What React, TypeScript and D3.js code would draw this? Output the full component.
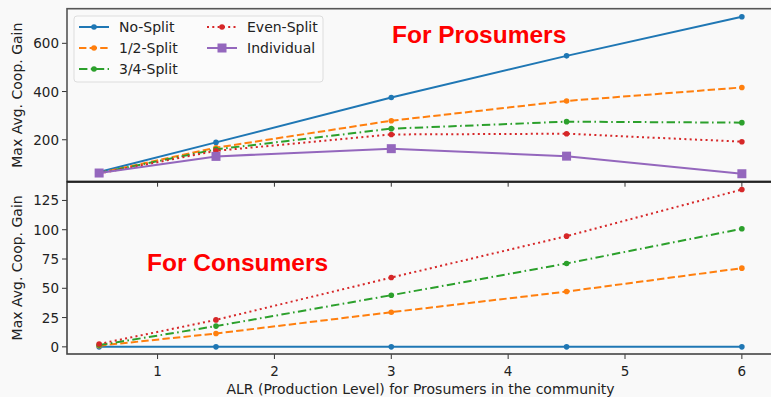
import React from 'react';
import * as d3 from 'd3';

const alr = [0.5, 1.5, 3, 4.5, 6];

// top panel: prosumers
const proNoSplit = [66, 189, 375, 548, 710];
const proHalf = [62, 167, 279, 361, 417];
const proThreeQ = [62, 160, 246, 275, 271];
const proEven = [60, 154, 222, 225, 192];
const proIndividual = [62, 131, 163, 132, 59];

// bottom panel: consumers
const conNoSplit = [0, 0, 0, 0, 0];
const conHalf = [1, 11.4, 29.6, 47.2, 67.2];
const conThreeQ = [1.5, 17.7, 44.1, 71.2, 100.8];
const conEven = [2.5, 23, 59.2, 94.5, 134.3];

const xTicks = [1, 2, 3, 4, 5, 6];
const topTicks = [200, 400, 600];
const bottomTicks = [0, 25, 50, 75, 100, 125];

const W = 771;
const H = 397;
const left = 67;
const right = 774;
const topY0 = 8.7;
const topY1 = 181.7;
const botY1 = 354;

const styles: Record<string, { color: string; dash?: string; square?: boolean }> = {
  'No-Split': { color: '#1f77b4' },
  '1/2-Split': { color: '#ff7f0e', dash: '7.4,3.2' },
  '3/4-Split': { color: '#2ca02c', dash: '8.4,3.4,1.6,3.4' },
  'Even-Split': { color: '#d62728', dash: '2,3.3' },
  'Individual': { color: '#9467bd', square: true },
};

const font = 'DejaVu Sans, sans-serif';
const titleFont = 'Liberation Sans, Arial, sans-serif';

function Series({ name, values, x, y }: { name: string; values: number[]; x: any; y: any }) {
  const s = styles[name];
  const line = d3.line<number>().x((_, i) => x(alr[i])).y((d) => y(d));
  return (
    <g>
      <path d={line(values) || ''} fill="none" stroke={s.color} strokeWidth={2} strokeDasharray={s.dash} />
      {values.map((v, i) =>
        s.square ? (
          <rect key={i} x={x(alr[i]) - 4.5} y={y(v) - 4.5} width={9} height={9} fill={s.color} />
        ) : (
          <circle key={i} cx={x(alr[i])} cy={y(v)} r={2.8} fill={s.color} />
        )
      )}
    </g>
  );
}

function LegendItem({ name, lx, ly }: { name: string; lx: number; ly: number }) {
  const s = styles[name];
  return (
    <g>
      <line x1={lx} x2={lx + 30} y1={ly} y2={ly} stroke={s.color} strokeWidth={2} strokeDasharray={s.dash} />
      {s.square ? (
        <rect x={lx + 15 - 4.5} y={ly - 4.5} width={9} height={9} fill={s.color} />
      ) : (
        <circle cx={lx + 15} cy={ly} r={2.8} fill={s.color} />
      )}
      <text x={lx + 40} y={ly + 5} fontSize={14} fontFamily={font} fill="#222">
        {name}
      </text>
    </g>
  );
}

export default function App() {
  const x = d3.scaleLinear().domain([0.225, 6.275]).range([left, right]);
  const yTop = d3.scaleLinear().domain([26, 743.6]).range([topY1, topY0]);
  const yBot = d3.scaleLinear().domain([-6.1, 141]).range([botY1, topY1]);

  return (
    <svg width={W} height={H} style={{ position: 'absolute', left: 0, top: 0, background: '#f9f9f9' }}>
      <rect x={0} y={0} width={W} height={H} fill="#f9f9f9" />

      {/* top panel */}
      <g>
        <Series name="No-Split" values={proNoSplit} x={x} y={yTop} />
        <Series name="1/2-Split" values={proHalf} x={x} y={yTop} />
        <Series name="3/4-Split" values={proThreeQ} x={x} y={yTop} />
        <Series name="Even-Split" values={proEven} x={x} y={yTop} />
        <Series name="Individual" values={proIndividual} x={x} y={yTop} />
        {topTicks.map((t) => (
          <g key={t}>
            <line x1={left - 5} x2={left} y1={yTop(t)} y2={yTop(t)} stroke="#333" strokeWidth={1} />
            <text x={left - 8} y={yTop(t) + 5} textAnchor="end" fontSize={13.5} fontFamily={font} fill="#222">
              {t}
            </text>
          </g>
        ))}
        {xTicks.map((t) => (
          <line key={t} x1={x(t)} x2={x(t)} y1={topY1} y2={topY1 + 5} stroke="#333" strokeWidth={1} />
        ))}
        <text
          transform={`translate(22,${(topY0 + topY1) / 2}) rotate(-90)`}
          textAnchor="middle"
          fontSize={14}
          fontFamily={font}
          fill="#222"
        >
          Max Avg. Coop. Gain
        </text>
        <text x={392} y={43} fontSize={24.5} fontWeight="bold" fontFamily={titleFont} fill="#ff0000">
          For Prosumers
        </text>
        <rect x={74} y={16} width={249} height={66} rx={3} fill="#fbfbfb" fillOpacity={0.85} stroke="#ddd" strokeWidth={1} />
        <LegendItem name="No-Split" lx={79} ly={27} />
        <LegendItem name="1/2-Split" lx={79} ly={48} />
        <LegendItem name="3/4-Split" lx={79} ly={69} />
        <LegendItem name="Even-Split" lx={207} ly={27} />
        <LegendItem name="Individual" lx={207} ly={48} />
      </g>

      {/* bottom panel */}
      <g>
        <Series name="No-Split" values={conNoSplit} x={x} y={yBot} />
        <Series name="1/2-Split" values={conHalf} x={x} y={yBot} />
        <Series name="3/4-Split" values={conThreeQ} x={x} y={yBot} />
        <Series name="Even-Split" values={conEven} x={x} y={yBot} />
        {bottomTicks.map((t) => (
          <g key={t}>
            <line x1={left - 5} x2={left} y1={yBot(t)} y2={yBot(t)} stroke="#333" strokeWidth={1} />
            <text x={left - 8} y={yBot(t) + 5} textAnchor="end" fontSize={13.5} fontFamily={font} fill="#222">
              {t}
            </text>
          </g>
        ))}
        {xTicks.map((t) => (
          <g key={t}>
            <line x1={x(t)} x2={x(t)} y1={botY1} y2={botY1 + 5} stroke="#333" strokeWidth={1} />
            <text x={x(t)} y={botY1 + 22} textAnchor="middle" fontSize={13.5} fontFamily={font} fill="#222">
              {t}
            </text>
          </g>
        ))}
        <text
          transform={`translate(22,${(topY1 + botY1) / 2}) rotate(-90)`}
          textAnchor="middle"
          fontSize={14}
          fontFamily={font}
          fill="#222"
        >
          Max Avg. Coop. Gain
        </text>
        <text x={147} y={271} fontSize={24.5} fontWeight="bold" fontFamily={titleFont} fill="#ff0000">
          For Consumers
        </text>
        <text x={(left + right) / 2} y={394} textAnchor="middle" fontSize={14} fontFamily={font} fill="#222">
          ALR (Production Level) for Prosumers in the community
        </text>
      </g>

      {/* spines */}
      <rect x={left} y={topY0} width={right - left} height={topY1 - topY0} fill="none" stroke="#555" strokeWidth={1.6} />
      <rect x={left} y={topY1} width={right - left} height={botY1 - topY1} fill="none" stroke="#444" strokeWidth={1.6} />
      <line x1={left} x2={right} y1={topY1} y2={topY1} stroke="#222" strokeWidth={2} />
    </svg>
  );
}
